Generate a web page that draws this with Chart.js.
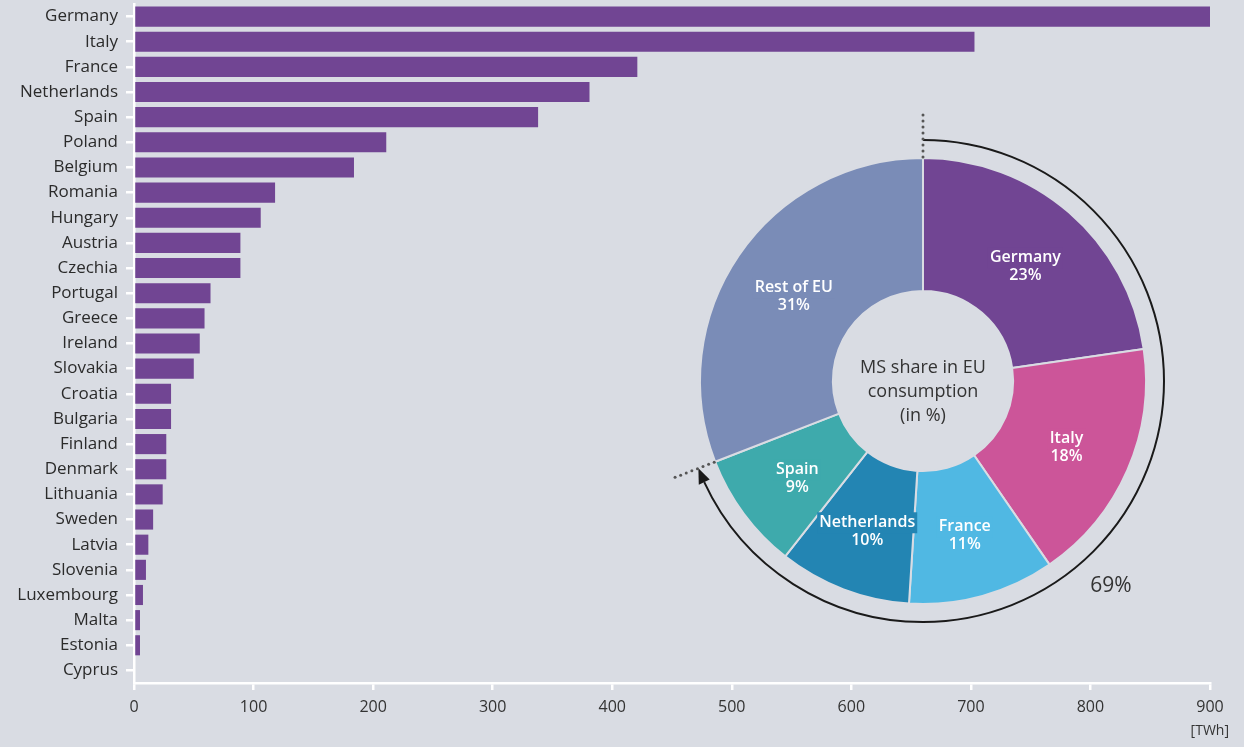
<!DOCTYPE html>
<html lang="en">
  <head>
    <meta charset="UTF-8" />
    <meta name="viewport" content="width=device-width, initial-scale=1.0" />
    <title>Gas consumption by Member State</title>
    <script src="https://cdn.jsdelivr.net/npm/chart.js"></script>
    <style>
      html,
      body {
        margin: 0;
        padding: 0;
        background: #d9dce3;
        overflow: hidden;
        font-family: "Open Sans", sans-serif;
      }

      .bar-wrap {
        position: absolute;
        left: 0;
        top: 0;
        width: 1244px;
        height: 747px;
      }

      /* doughnut sits on top of the bar chart, centred on the empty area */
      .pie-wrap {
        position: absolute;
        left: 643px;
        top: 101px;
        width: 560px;
        height: 560px;
      }
    </style>
  </head>
  <body>
    <div class="bar-wrap"><canvas id="barChart"></canvas></div>
    <div class="pie-wrap"><canvas id="pieChart"></canvas></div>

    <script>
      // Consumption per Member State [TWh]
      const countries = [
        "Germany", "Italy", "France", "Netherlands", "Spain", "Poland",
        "Belgium", "Romania", "Hungary", "Austria", "Czechia", "Portugal",
        "Greece", "Ireland", "Slovakia", "Croatia", "Bulgaria", "Finland",
        "Denmark", "Lithuania", "Sweden", "Latvia", "Slovenia", "Luxembourg",
        "Malta", "Estonia", "Cyprus",
      ];
      const consumption = [
        900, 703, 421, 381, 338, 211, 184, 118, 106, 89, 89, 64, 59, 55, 50,
        31, 31, 27, 27, 24, 16, 12, 10, 7.5, 5, 5, 0,
      ];
      const xTicks = [0, 100, 200, 300, 400, 500, 600, 700, 800, 900];

      // MS share in EU consumption [%]
      const pieLabels = ["Germany", "Italy", "France", "Netherlands", "Spain", "Rest of EU"];
      const pieShares = [22.7, 17.7, 10.6, 9.6, 8.5, 30.9];
      const pieColors = ["#714593", "#cc5599", "#50b8e3", "#2385b3", "#3eaaac", "#7a8cb7"];

      const BG = "#d9dce3";
      const TEXT = "#2b2b2b";
      Chart.defaults.font.family = "'Open Sans', sans-serif";

      // unit label under the last x tick
      const unitLabel = {
        id: "unitLabel",
        afterDraw(chart) {
          const ctx = chart.ctx;
          ctx.save();
          ctx.fillStyle = "#333";
          ctx.font = "14px 'Open Sans', sans-serif";
          ctx.textAlign = "right";
          ctx.textBaseline = "middle";
          ctx.fillText("[TWh]", chart.chartArea.right + 19, chart.height - 16);
          ctx.restore();
        },
      };

      new Chart(document.getElementById("barChart"), {
        type: "bar",
        data: {
          labels: countries,
          datasets: [
            {
              data: consumption,
              backgroundColor: "#714593",
              barPercentage: 0.8,
              categoryPercentage: 1,
            },
          ],
        },
        options: {
          indexAxis: "y",
          responsive: true,
          maintainAspectRatio: false,
          animation: false,
          layout: { padding: { top: 4, right: 34, left: 0, bottom: 0 } },
          plugins: {
            legend: { display: false },
            tooltip: { enabled: false },
          },
          scales: {
            x: {
              min: 0,
              max: 900,
              afterBuildTicks(scale) {
                scale.ticks = xTicks.map((v) => ({ value: v }));
              },
              ticks: { color: "#333", font: { size: 16 }, padding: 8 },
              grid: {
                drawOnChartArea: false,
                color: "#fff",
                lineWidth: 2.5,
                tickLength: 7,
              },
              border: { color: "#fff", width: 2.5 },
              afterFit(scale) {
                scale.height = 64;
              },
            },
            y: {
              ticks: { color: TEXT, font: { size: 17 }, padding: 8, autoSkip: false },
              grid: {
                drawOnChartArea: false,
                offset: false,
                color: "#fff",
                lineWidth: 2.5,
                tickLength: 8,
              },
              border: { color: "#fff", width: 2.5 },
              afterFit(scale) {
                scale.width = 134;
                scale.paddingTop = 0;
                scale.paddingBottom = 0;
              },
            },
          },
        },
        plugins: [unitLabel],
      });

      // labels, centre text, outer arrow ring and dotted markers of the doughnut
      const pieDecor = {
        id: "pieDecor",
        afterDatasetsDraw(chart) {
          const ctx = chart.ctx;
          const meta = chart.getDatasetMeta(0);
          const arcs = meta.data;
          const cx = arcs[0].x;
          const cy = arcs[0].y;
          const R = arcs[0].outerRadius;

          // segment labels
          ctx.save();
          ctx.font = "600 16px 'Open Sans', sans-serif";
          ctx.textAlign = "center";
          ctx.textBaseline = "middle";
          arcs.forEach((arc, i) => {
            const p = arc.getCenterPoint();
            const lines = [pieLabels[i], Math.round(pieShares[i]) + "%"];
            const w = ctx.measureText(lines[0]).width + 4;
            ctx.fillStyle = pieColors[i];
            ctx.fillRect(p.x - w / 2, p.y - 15, w, 21);
            ctx.fillStyle = "#fff";
            ctx.fillText(lines[0], p.x, p.y - 5);
            ctx.fillText(lines[1], p.x, p.y + 13);
          });

          // centre text
          ctx.fillStyle = "#333";
          ctx.font = "18px 'Open Sans', sans-serif";
          ["MS share in EU", "consumption", "(in %)"].forEach((t, i) => {
            ctx.fillText(t, cx, cy - 13 + i * 24);
          });

          // ring arc covering the five largest consumers
          const top5 = pieShares.slice(0, 5).reduce((a, b) => a + b, 0);
          const a0 = arcs[0].startAngle;
          const a1 = arcs[4].endAngle;
          const ringR = R + 18;
          const headLen = 15;
          const aBase = a1 - headLen / ringR;
          ctx.strokeStyle = "#1a1a1a";
          ctx.lineWidth = 2;
          ctx.beginPath();
          ctx.arc(cx, cy, ringR, a0, aBase, false);
          ctx.stroke();

          // arrow head
          const tip = { x: cx + ringR * Math.cos(a1), y: cy + ringR * Math.sin(a1) };
          const base = { x: cx + ringR * Math.cos(aBase), y: cy + ringR * Math.sin(aBase) };
          const nx = Math.cos(aBase);
          const ny = Math.sin(aBase);
          ctx.fillStyle = "#1a1a1a";
          ctx.beginPath();
          ctx.moveTo(tip.x, tip.y);
          ctx.lineTo(base.x + nx * 6, base.y + ny * 6);
          ctx.lineTo(base.x - nx * 6, base.y - ny * 6);
          ctx.closePath();
          ctx.fill();

          // dotted radial markers at both ends
          ctx.fillStyle = "#555";
          [a0, a1].forEach((a) => {
            for (let r = R + 1; r <= R + 46; r += 6) {
              ctx.beginPath();
              ctx.arc(cx + r * Math.cos(a), cy + r * Math.sin(a), 1.5, 0, Math.PI * 2);
              ctx.fill();
            }
          });

          // share of the five largest
          const aLbl = a0 + (137.5 * Math.PI) / 180;
          ctx.fillStyle = "#333";
          ctx.font = "21px 'Open Sans', sans-serif";
          ctx.fillText(
            Math.round(top5) + "%",
            cx + (R + 55) * Math.cos(aLbl),
            cy + (R + 55) * Math.sin(aLbl)
          );
          ctx.restore();
        },
      };

      new Chart(document.getElementById("pieChart"), {
        type: "doughnut",
        data: {
          labels: pieLabels,
          datasets: [
            {
              data: pieShares,
              backgroundColor: pieColors,
              borderColor: BG,
              borderWidth: 2,
            },
          ],
        },
        options: {
          responsive: true,
          maintainAspectRatio: false,
          animation: false,
          radius: 223,
          cutout: "40.4%",
          plugins: {
            legend: { display: false },
            tooltip: { enabled: false },
          },
        },
        plugins: [pieDecor],
      });
    </script>
  </body>
</html>
